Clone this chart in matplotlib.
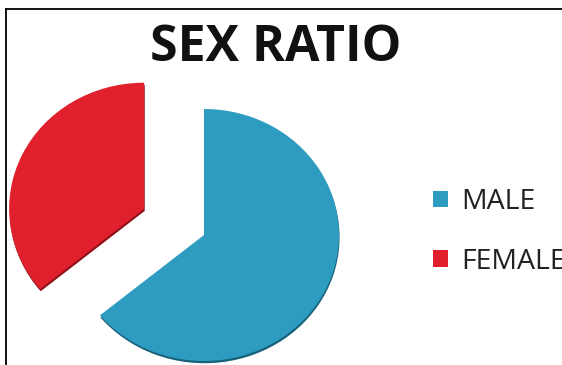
import matplotlib.pyplot as plt
import matplotlib.patheffects as pe
from matplotlib.lines import Line2D

labels = ['MALE', 'FEMALE']
shares = [64, 36]
colors = ['#2e9cc0', '#e0212d']
explode = [0, 0.49]

W, H = 562, 365
# pie centre and radii in pixels; the pie is drawn slightly squashed (tilted look)
cx, cy, rx, ry = 204, 235, 135, 126

fig = plt.figure(figsize=(W / 100, H / 100), dpi=100)
ax = fig.add_axes([0, 0, 1, 1])

wedges, _ = ax.pie(shares, colors=colors, explode=explode, startangle=90,
                   counterclock=False, radius=1, wedgeprops=dict(linewidth=0))
# darker lower rim to fake the 3d look
shade = ['#17607a', '#8e1018']
for w, s in zip(wedges, shade):
    w.set_path_effects([pe.SimplePatchShadow(offset=(0.4, -1.6), shadow_rgbFace=s, alpha=1),
                        pe.Normal()])

ax.set_aspect('auto')
ax.set_xlim(-cx / rx, (W - cx) / rx)
ax.set_ylim(-(H - cy) / ry, cy / ry)
ax.axis('off')

fig.text(276 / W, 1 - 48 / H, 'SEX RATIO', ha='center', va='center', fontsize=36,
         fontweight='bold', family='Open Sans', color='#111111')

leg = fig.legend(wedges, labels, loc='upper left', bbox_to_anchor=(419 / W, 1 - 174 / H),
                 frameon=False, prop=dict(family='Open Sans', size=20.5), handlelength=0.51,
                 handleheight=0.51, handletextpad=0.47, labelspacing=1.1, borderpad=0)
for t in leg.get_texts():
    t.set_color('#222222')
for h in leg.legend_handles:
    h.set_path_effects([])

# frame lines on the top and left edges
fig.add_artist(Line2D([6 / W, 1], [1 - 9 / H, 1 - 9 / H], color='black', lw=1.3))
fig.add_artist(Line2D([6 / W, 6 / W], [0, 1 - 9 / H], color='black', lw=1.3))

fig.savefig('out.png', dpi=100)
